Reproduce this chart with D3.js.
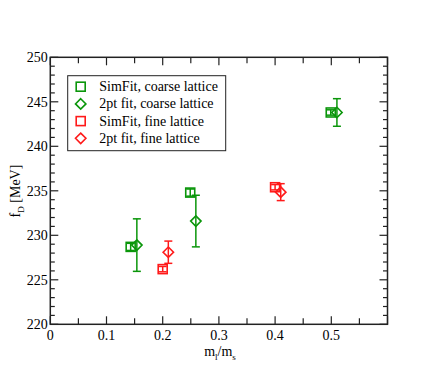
<!DOCTYPE html>
<html>
<head>
<meta charset="utf-8">
<script src="https://cdn.jsdelivr.net/npm/d3@7"></script>
<style>
  body { margin: 0; background: #fff; }
  svg { display: block; }
</style>
</head>
<body>
<svg id="chart" width="436" height="382"></svg>
<script>
// values
const simCoarseX = [0.143, 0.249, 0.499];
const simCoarseY = [228.7, 234.8, 243.8];
const simCoarseErr = [0.4, 0.4, 0.3];

const twoCoarseX = [0.154, 0.259, 0.51];
const twoCoarseY = [228.9, 231.6, 243.8];
const twoCoarseErr = [2.95, 2.9, 1.55];

const simFineX = [0.2, 0.4];
const simFineY = [226.2, 235.4];
const simFineErr = [0.3, 0.3];

const twoFineX = [0.21, 0.41];
const twoFineY = [228.1, 234.85];
const twoFineErr = [1.25, 0.95];

const xTicks = [0, 0.1, 0.2, 0.3, 0.4, 0.5];
const yTicks = [220, 225, 230, 235, 240, 245, 250];

const legendLabels = ["SimFit, coarse lattice", "2pt fit, coarse lattice", "SimFit, fine lattice", "2pt fit, fine lattice"];

const green = "#0a960a";
const red = "#ff1a1a";
const fontFamily = "Liberation Serif, DejaVu Serif";

const width = 436, height = 382;
const margin = { top: 57.3, right: 48.5, bottom: 57.7, left: 50.3 };

const svg = d3.select("#chart").style("font-family", fontFamily);

const x = d3.scaleLinear().domain([0, 0.6]).range([margin.left, width - margin.right]);
const y = d3.scaleLinear().domain([220, 250]).range([height - margin.bottom, margin.top]);

const axisColor = "#222";

// ticks (all pointing inward, on all four sides)
const xMinor = d3.range(0, 0.6001, 0.05);
const yMinor = d3.range(220, 250.001, 1);

const ticks = svg.append("g").attr("stroke", axisColor).attr("stroke-width", 1.2);
xMinor.forEach(v => {
  const isMajor = Math.abs(v * 10 - Math.round(v * 10)) < 1e-6;
  const len = isMajor ? 8 : 6;
  ticks.append("line").attr("x1", x(v)).attr("x2", x(v))
    .attr("y1", y(220)).attr("y2", y(220) - len);
  ticks.append("line").attr("x1", x(v)).attr("x2", x(v))
    .attr("y1", y(250)).attr("y2", y(250) + len);
});
yMinor.forEach(v => {
  const isMajor = Math.round(v) % 5 === 0;
  const len = isMajor ? 8 : 4.5;
  ticks.append("line").attr("x1", x(0)).attr("x2", x(0) + len)
    .attr("y1", y(v)).attr("y2", y(v));
  ticks.append("line").attr("x1", x(0.6)).attr("x2", x(0.6) - len)
    .attr("y1", y(v)).attr("y2", y(v));
});

// frame
svg.append("rect")
  .attr("x", x(0)).attr("y", y(250))
  .attr("width", x(0.6) - x(0)).attr("height", y(220) - y(250))
  .attr("fill", "none").attr("stroke", axisColor).attr("stroke-width", 1.5);

// tick labels
svg.append("g").selectAll("text").data(xTicks).join("text")
  .style("font-family", fontFamily)
  .attr("x", d => x(d)).attr("y", y(220) + 16)
  .attr("text-anchor", "middle").attr("font-size", 14).attr("fill", "#000")
  .text(d => d3.format("")(d));

svg.append("g").selectAll("text").data(yTicks).join("text")
  .style("font-family", fontFamily)
  .attr("x", x(0) - 2.5).attr("y", d => y(d) + 5)
  .attr("text-anchor", "end").attr("font-size", 14).attr("fill", "#000")
  .text(d => d);

// axis labels
const xl = svg.append("text").style("font-family", fontFamily)
  .attr("x", 220).attr("y", 356)
  .attr("text-anchor", "middle").attr("font-size", 14);
xl.append("tspan").text("m");
xl.append("tspan").attr("font-size", 9).attr("dy", 4).text("l");
xl.append("tspan").attr("dy", -4).text("/m");
xl.append("tspan").attr("font-size", 9).attr("dy", 4).text("s");

const yl = svg.append("text").style("font-family", fontFamily)
  .attr("transform", "translate(20,191) rotate(-90)")
  .attr("text-anchor", "middle").attr("font-size", 14);
yl.append("tspan").text("f");
yl.append("tspan").attr("font-size", 9).attr("dy", 4).text("D");
yl.append("tspan").attr("dy", -4).text(" [MeV]");

// marks
const series = [
  { xs: simCoarseX, ys: simCoarseY, es: simCoarseErr, color: green, shape: "square" },
  { xs: twoCoarseX, ys: twoCoarseY, es: twoCoarseErr, color: green, shape: "diamond" },
  { xs: simFineX, ys: simFineY, es: simFineErr, color: red, shape: "square" },
  { xs: twoFineX, ys: twoFineY, es: twoFineErr, color: red, shape: "diamond" }
];

function drawSymbol(g, shape, cx, cy, color) {
  if (shape === "square") {
    g.append("rect").attr("x", cx - 4.5).attr("y", cy - 4.5)
      .attr("width", 9).attr("height", 9)
      .attr("fill", "none").attr("stroke", color).attr("stroke-width", 1.6);
  } else {
    const r = 5.2;
    g.append("path")
      .attr("d", `M${cx},${cy - r}L${cx + r},${cy}L${cx},${cy + r}L${cx - r},${cy}Z`)
      .attr("fill", "none").attr("stroke", color).attr("stroke-width", 1.6);
  }
}

const marks = svg.append("g");
series.forEach(s => {
  s.xs.forEach((xv, i) => {
    const cx = x(xv), cy = y(s.ys[i]);
    const top = y(s.ys[i] + s.es[i]), bot = y(s.ys[i] - s.es[i]);
    const eg = marks.append("g").attr("stroke", s.color).attr("stroke-width", 1.5);
    eg.append("line").attr("x1", cx).attr("x2", cx).attr("y1", top).attr("y2", bot);
    eg.append("line").attr("x1", cx - 4).attr("x2", cx + 4).attr("y1", top).attr("y2", top);
    eg.append("line").attr("x1", cx - 4).attr("x2", cx + 4).attr("y1", bot).attr("y2", bot);
    drawSymbol(marks, s.shape, cx, cy, s.color);
  });
});

// legend
const legend = svg.append("g");
legend.append("rect")
  .attr("x", 67.7).attr("y", 75.7).attr("width", 158).attr("height", 75)
  .attr("fill", "#fff").attr("stroke", axisColor).attr("stroke-width", 1);
legendLabels.forEach((lab, i) => {
  const ly = 86.7 + i * 17.2;
  drawSymbol(legend, series[i].shape, 80.7, ly, series[i].color);
  legend.append("text").style("font-family", fontFamily)
    .attr("x", 99.3).attr("y", ly + 4.5)
    .attr("font-size", 14).attr("fill", "#000").text(lab);
});
</script>
</body>
</html>
